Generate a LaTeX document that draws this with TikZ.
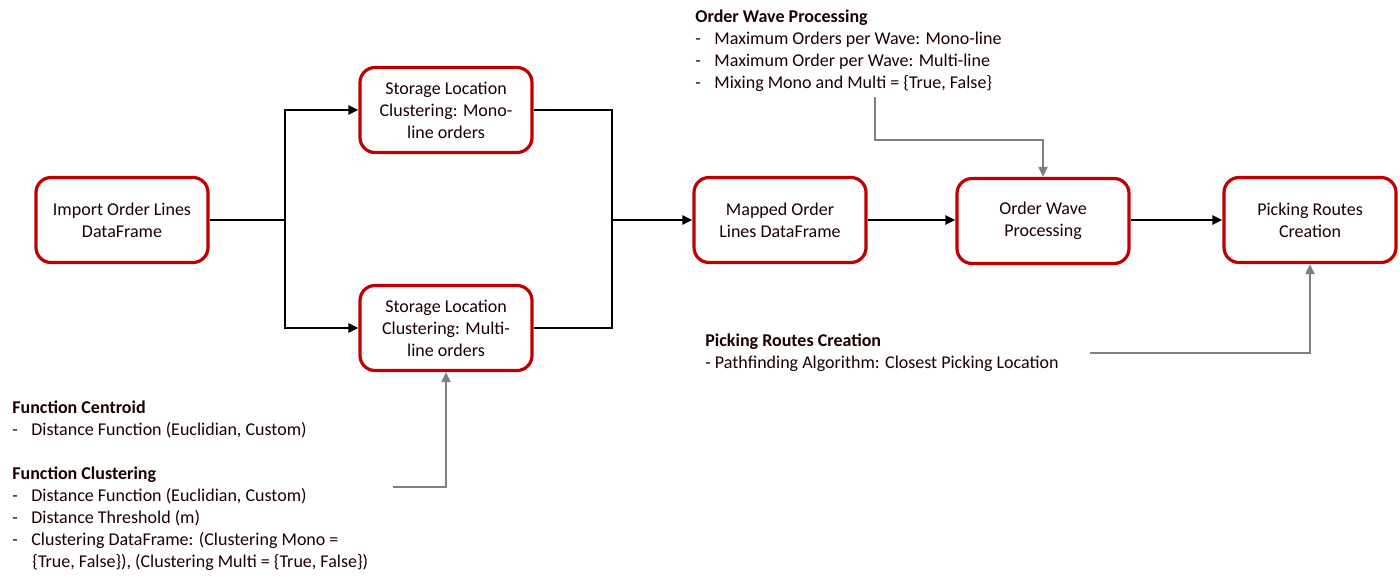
\documentclass[tikz,border=0pt]{standalone}
\usepackage{fontspec}
\setmainfont{Carlito}
\usetikzlibrary{arrows.meta}
\definecolor{boxred}{HTML}{C00000}
\definecolor{notegrey}{HTML}{7F7F7F}
\definecolor{ink}{HTML}{1A0000}
\newcommand{\dashitem}{\makebox[9.5pt][l]{-}}

\begin{document}
\begin{tikzpicture}[x=0.5pt, y=-0.5pt, every node/.style={text=ink},
    box/.style={draw=boxred, line width=1.6pt, rounded corners=7.5pt, fill=white,
        minimum width=86pt, minimum height=42.5pt, align=center,
        font=\fontsize{9}{11}\selectfont},
    flow/.style={line width=1.3pt, -{Triangle[length=5pt,width=4.5pt]}},
    link/.style={line width=1.3pt},
    note/.style={draw=notegrey, line width=1pt, -{Triangle[length=5pt,width=4.5pt]}},
    txt/.style={anchor=north west, inner sep=0pt, align=left,
        font=\fontsize{9}{11}\selectfont}]
    \useasboundingbox (0,0) rectangle (1400,585);

    \node[box] (imp) at (122,220) {Import Order Lines\\DataFrame};
    \node[box] (mono) at (446,110) {Storage Location\\Clustering: Mono-\\line orders};
    \node[box] (multi) at (446,328) {Storage Location\\Clustering: Multi-\\line orders};
    \node[box] (map) at (780,220) {Mapped Order\\Lines DataFrame};
    \node[box] (wave) at (1043,221) {Order Wave\\Processing};
    \node[box] (route) at (1310,220) {Picking Routes\\Creation};

    % split and join
    \coordinate (s) at (285,220);
    \coordinate (j) at (612,220);
    \draw[link] (imp.east) -- (s);
    \draw[flow] (s) |- (mono.west);
    \draw[flow] (s) |- (multi.west);
    \draw[link] (mono.east) -| (j) |- (multi.east);
    \draw[flow] (j) -- (map.west);
    \draw[flow] (map) -- (wave.west |- map);
    \draw[flow] (wave.east |- map) -- (route);

    % notes
    \node[txt] (wtxt) at (695,9) {\textbf{Order Wave Processing}\\
        \dashitem Maximum Orders per Wave: Mono-line\\
        \dashitem Maximum Order per Wave: Multi-line\\
        \dashitem Mixing Mono and Multi = \{True, False\}};
    \node[txt] (rtxt) at (705,333) {\textbf{Picking Routes Creation}\\
        - Pathfinding Algorithm: Closest Picking Location};
    \node[txt] (ctxt) at (12,400) {\textbf{Function Centroid}\\
        \dashitem Distance Function (Euclidian, Custom)\\[11pt]
        \textbf{Function Clustering}\\
        \dashitem Distance Function (Euclidian, Custom)\\
        \dashitem Distance Threshold (m)\\
        \dashitem Clustering DataFrame: (Clustering Mono =};
    \node[txt, anchor=base west] (ctxt2) at (32,567)
        {\{True, False\}), (Clustering Multi = \{True, False\})};

    \coordinate (w1) at (875,97);
    \coordinate (c1) at (393,487);
    \coordinate (r1) at (1090,353);
    \draw[note] (w1) -- ++(0,43) -| (wave.north);
    \draw[note] (c1) -| (multi.south);
    \draw[note] (r1) -| (route.south);
\end{tikzpicture}
\end{document}
